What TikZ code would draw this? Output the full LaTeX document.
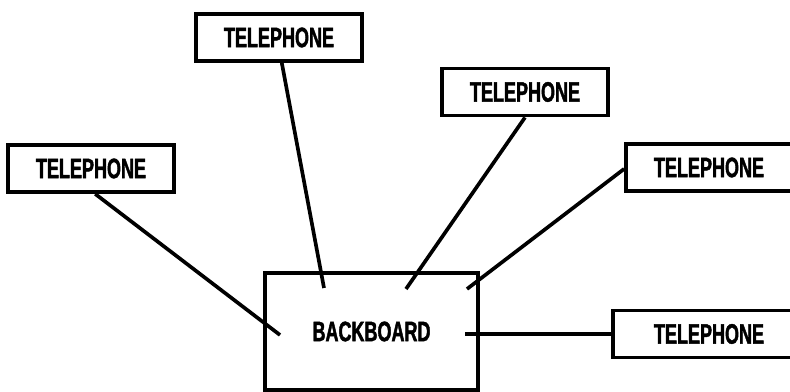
\documentclass[tikz,border=0pt]{standalone}
\usepackage{fontspec}
\newfontfamily\boxfont{Liberation Sans}[FakeStretch=0.64,FakeBold=1.5]
\usetikzlibrary{positioning}

\begin{document}
\begin{tikzpicture}[
    x=0.025cm,
    y=-0.025cm,
    line width=2.6pt,
    every node/.style={font=\boxfont\bfseries\fontsize{20}{24}\selectfont},
    phone/.style={
        draw,
        rectangle,
        minimum width=4.15cm,
        minimum height=1.18cm,
        inner sep=0pt
    },
    board/.style={
        draw,
        rectangle,
        minimum width=5.33cm,
        minimum height=2.93cm,
        inner sep=0pt
    },
    wire/.style={-, line width=2.6pt}
]
\clip (0,0) rectangle (790,392);

%------------------------------------------------
% Nodes
%------------------------------------------------
\node[phone] (tela) at (91,168.5)  {TELEPHONE};
\node[phone] (telb) at (279,37.5)  {TELEPHONE};
\node[phone] (telc) at (525,92)    {TELEPHONE};
\node[phone] (teld) at (709,167.5) {TELEPHONE};
\node[phone, minimum width=4.8cm] (tele) at (709,334) {TELEPHONE};

\node[board] (bb) at (371.5,331.5) {BACKBOARD};

% wire ends inside the backboard
\coordinate (ea) at (280,335);
\coordinate (eb) at (324,288);
\coordinate (ec) at (406,289);
\coordinate (ed) at (467,289);
\coordinate (ee) at (465,334);

%------------------------------------------------
% Wires
%------------------------------------------------
\draw[wire] ([xshift=3pt]tela.south) -- (ea);
\draw[wire] ([xshift=2pt]telb.south) -- (eb);
\draw[wire] (telc.south) -- (ec);
\draw[wire] ([yshift=-1pt]teld.west) -- (ed);
\draw[wire] (tele.west) -- (ee);

\end{tikzpicture}
\end{document}
